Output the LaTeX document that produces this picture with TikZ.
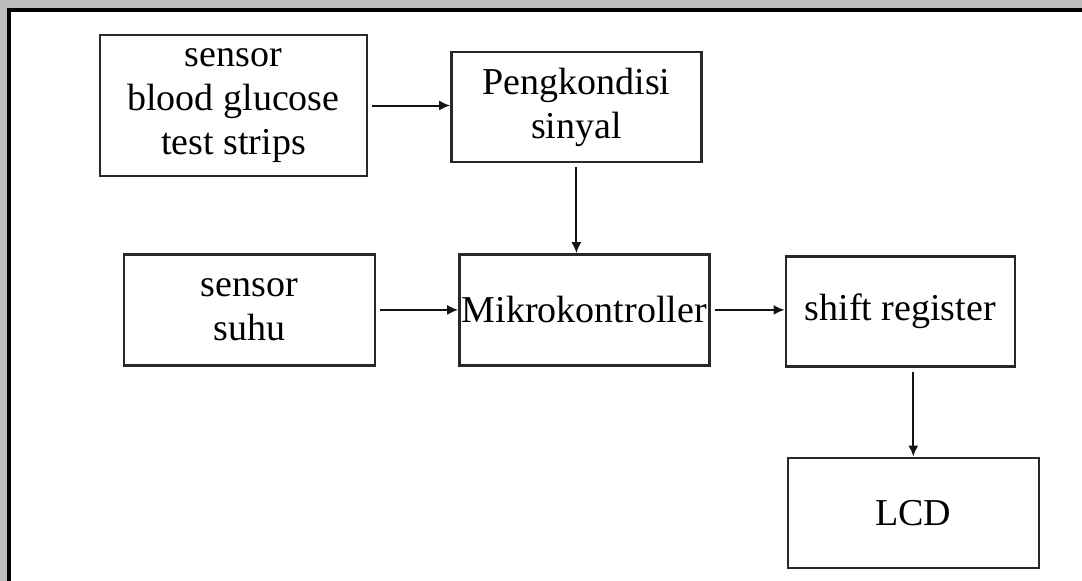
\documentclass[tikz,border=0pt]{standalone}
\usepackage{fontspec}
\setmainfont{Liberation Serif}
\usetikzlibrary{arrows.meta, positioning}
\definecolor{boxline}{RGB}{40,40,40}
\definecolor{arrowblack}{RGB}{20,20,20}
\definecolor{pagegray}{RGB}{188,188,188}
\tikzset{
  % Block (plain rectangle)
  block/.style={
    rectangle, draw=boxline, line width=2.4pt, fill=white,
    minimum width=250pt, minimum height=110pt,
    font=\fontsize{38}{44}\selectfont, align=center, inner sep=2pt
  },
  % Arrow style
  arr/.style={
    -{Latex[length=11pt, width=10pt]}, color=arrowblack, line width=2pt,
    shorten <=4pt
  },
}
\begin{document}
\begin{tikzpicture}[x=1pt, y=-1pt]

\useasboundingbox (0,0) rectangle (1082,581);

%% ── FRAME ───────────────────────────────────────────────────────────────
\fill[pagegray] (0,0) rectangle (1082,581);
\fill[white] (9,10) rectangle (1090,590);
\draw[line width=4pt] (9,590) -- (9,10) -- (1090,10);

%% ── TOP ROW ─────────────────────────────────────────────────────────────

\node[block, minimum width=267pt, minimum height=141pt] (glucose) at (233.5,105.5)
  {sensor\\blood glucose\\test strips};

\node[block, right=82pt of glucose, yshift=-1.5pt] (kondisi)
  {Pengkondisi\\sinyal};

%% ── MIDDLE ROW ──────────────────────────────────────────────────────────

\node[block, minimum width=251pt, minimum height=111pt,
      below=76pt of glucose, xshift=16pt] (suhu)
  {sensor\\suhu};

\node[block, minimum height=111pt, right=82pt of suhu] (mikro)
  {Mikrokontroller};

\node[block, minimum width=229pt, right=74pt of mikro, yshift=-1.5pt] (shiftreg)
  {shift register};

%% ── BOTTOM ROW ──────────────────────────────────────────────────────────

\node[block, minimum width=251pt, below=89pt of shiftreg, xshift=13pt] (lcd)
  {LCD};

%% ── ARROWS ──────────────────────────────────────────────────────────────

\draw[arr] (glucose.east) -- (glucose.east -| kondisi.west);
\draw[arr] (kondisi.south) -- (kondisi.south |- mikro.north);
\draw[arr] (suhu.east)    -- (suhu.east -| mikro.west);
\draw[arr] (mikro.east)   -- (mikro.east -| shiftreg.west);
\draw[arr] (lcd.north |- shiftreg.south) -- (lcd.north);

\end{tikzpicture}
\end{document}
